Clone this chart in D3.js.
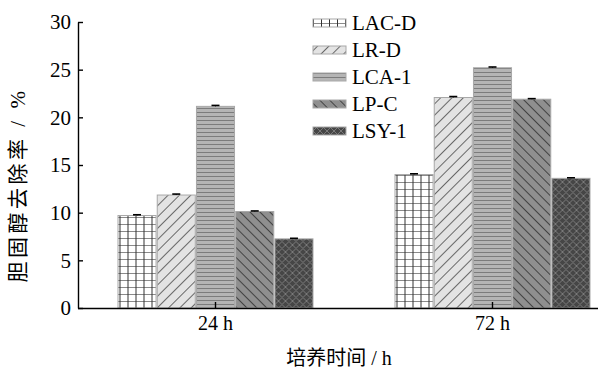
<!DOCTYPE html>
<html>
<head>
<meta charset="utf-8">
<script src="https://cdn.jsdelivr.net/npm/d3@7"></script>
<style>
  html, body { margin: 0; padding: 0; background: #fff; }
  svg { display: block; }
</style>
</head>
<body>
<svg id="chart" width="598" height="371"></svg>
<script>
// Cholesterol removal rate (%) per strain at two incubation times
const times = ["24 h", "72 h"];
const strains = ["LAC-D", "LR-D", "LCA-1", "LP-C", "LSY-1"];
const removal24 = [9.70, 11.85, 21.15, 10.12, 7.25];
const removal72 = [14.00, 22.08, 25.20, 21.90, 13.60];
const error24 = [0.08, 0.10, 0.10, 0.06, 0.06];
const error72 = [0.08, 0.10, 0.08, 0.06, 0.06];
const yTicks = [0, 5, 10, 15, 20, 25, 30];

const values = [removal24, removal72];
const errors = [error24, error72];

const serif = "'Liberation Serif', 'Times New Roman', 'Noto Sans CJK SC', serif";

const svg = d3.select("#chart");
const margin = { left: 78, top: 22, bottom: 308 };

const y = d3.scaleLinear().domain([0, 30]).range([margin.bottom, margin.top]);
const x = d3.scaleBand().domain(times).range([77, 631]).padding(0);
const xs = d3.scaleBand().domain(strains).range([-97.5, 97.5]).paddingInner(0.03).paddingOuter(0);

// Fill patterns for each strain
const defs = svg.append("defs");
function pat(id, w, h, bg, transform) {
  const p = defs.append("pattern").attr("id", id)
    .attr("patternUnits", "userSpaceOnUse").attr("width", w).attr("height", h);
  if (transform) p.attr("patternTransform", transform);
  p.append("rect").attr("width", w).attr("height", h).attr("fill", bg);
  return p;
}
// grid
const pGrid = pat("p-grid", 8, 7, "#ffffff");
pGrid.append("line").attr("x1", 0).attr("x2", 8).attr("y1", 0.5).attr("y2", 0.5).attr("stroke", "#8a8a8a").attr("stroke-width", 1);
pGrid.append("line").attr("x1", 0.5).attr("x2", 0.5).attr("y1", 0).attr("y2", 7).attr("stroke", "#333").attr("stroke-width", 1);
// forward diagonals
const pFwd = pat("p-fwd", 8, 8, "#e3e3e3", "rotate(45)");
pFwd.append("line").attr("x1", 0.5).attr("x2", 0.5).attr("y1", 0).attr("y2", 8).attr("stroke", "#5a5a5a").attr("stroke-width", 0.9);
// horizontal stripes
const pHor = pat("p-hor", 8, 4, "#b5b5b5");
pHor.append("line").attr("x1", 0).attr("x2", 8).attr("y1", 0.5).attr("y2", 0.5).attr("stroke", "#7c7c7c").attr("stroke-width", 1);
// backward diagonals
const pBack = pat("p-back", 7, 7, "#8f8f8f", "rotate(-45)");
pBack.append("line").attr("x1", 0.5).attr("x2", 0.5).attr("y1", 0).attr("y2", 7).attr("stroke", "#3a3a3a").attr("stroke-width", 0.9);
// crosshatch
const pX = pat("p-cross", 7, 7, "#464646");
pX.append("path").attr("d", "M0,0L7,7M7,0L0,7").attr("stroke", "#7a7a7a").attr("stroke-width", 1).attr("fill", "none");

const fills = d3.scaleOrdinal().domain(strains)
  .range(["url(#p-grid)", "url(#p-fwd)", "url(#p-hor)", "url(#p-back)", "url(#p-cross)"]);

// Bars
const groups = svg.append("g").selectAll("g")
  .data(times.map((t, i) => ({ t, vals: values[i], errs: errors[i] })))
  .join("g")
  .attr("transform", d => `translate(${x(d.t) + x.bandwidth() / 2},0)`);

groups.selectAll("rect")
  .data(d => strains.map((s, j) => ({ s, v: d.vals[j], e: d.errs[j] })))
  .join("rect")
  .attr("x", d => xs(d.s))
  .attr("y", d => y(d.v))
  .attr("width", xs.bandwidth())
  .attr("height", d => y(0) - y(d.v))
  .attr("fill", d => fills(d.s))
  .attr("stroke", "#a8a8a8")
  .attr("stroke-width", 1);

// Error bars
const eb = groups.selectAll("g.err")
  .data(d => strains.map((s, j) => ({ s, v: d.vals[j], e: d.errs[j] })))
  .join("g").attr("class", "err");
eb.append("line")
  .attr("x1", d => xs(d.s) + xs.bandwidth() / 2)
  .attr("x2", d => xs(d.s) + xs.bandwidth() / 2)
  .attr("y1", d => y(d.v))
  .attr("y2", d => y(d.v + d.e))
  .attr("stroke", "#000").attr("stroke-width", 1);
eb.append("line")
  .attr("x1", d => xs(d.s) + xs.bandwidth() / 2 - 4)
  .attr("x2", d => xs(d.s) + xs.bandwidth() / 2 + 4)
  .attr("y1", d => y(d.v + d.e))
  .attr("y2", d => y(d.v + d.e))
  .attr("stroke", "#000").attr("stroke-width", 1.6);

// Axes
const yAxis = svg.append("g")
  .attr("transform", `translate(${margin.left},0)`)
  .call(d3.axisLeft(y).tickValues(yTicks).tickSizeInner(-5).tickSizeOuter(0).tickPadding(7));
const xAxis = svg.append("g")
  .attr("transform", `translate(0,${margin.bottom})`)
  .call(d3.axisBottom(x).tickSizeInner(-6).tickSizeOuter(0).tickPadding(8));
xAxis.select(".domain").attr("d", `M${margin.left},0.5H598`);
[yAxis, xAxis].forEach(a => {
  a.attr("font-family", serif);
  a.selectAll("path, line").attr("stroke", "#000").attr("stroke-width", 1.4);
  a.selectAll("text").attr("font-size", 21).attr("fill", "#000");
});
xAxis.selectAll("text").attr("font-size", 20);

// Axis titles
svg.append("text")
  .attr("transform", "translate(25,185) rotate(-90)")
  .attr("text-anchor", "middle")
  .attr("font-family", serif)
  .attr("font-size", 21)
  .attr("letter-spacing", 3.5)
  .text("胆固醇去除率 / %");
svg.append("text")
  .attr("x", 339).attr("y", 365)
  .attr("text-anchor", "middle")
  .attr("font-family", serif)
  .attr("font-size", 20)
  .text("培养时间 / h");

// Legend
const legend = svg.append("g").selectAll("g")
  .data(strains)
  .join("g")
  .attr("transform", (d, i) => `translate(313,${23 + i * 27})`);
legend.append("rect")
  .attr("x", 0).attr("y", -4).attr("width", 33).attr("height", 8)
  .attr("fill", d => fills(d))
  .attr("stroke", "#a8a8a8").attr("stroke-width", 1);
legend.append("text")
  .attr("x", 39).attr("y", 0).attr("dy", "0.35em")
  .attr("font-family", serif)
  .attr("font-size", 21)
  .text(d => d);
</script>
</body>
</html>
